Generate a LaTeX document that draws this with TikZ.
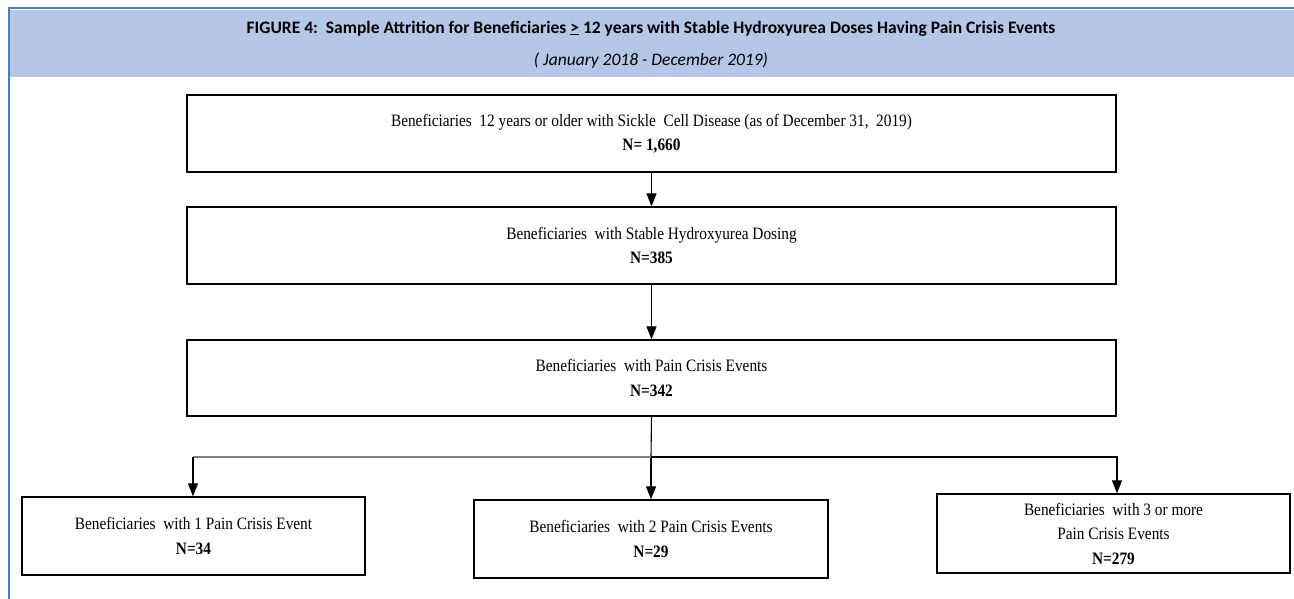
\documentclass[tikz,border=0pt]{standalone}
\usepackage{fontspec}
\setmainfont{Liberation Serif}
\newfontfamily\boxfont[FakeStretch=0.88]{Liberation Serif}
\newfontfamily\calfont{Carlito}
\usetikzlibrary{arrows.meta}
\definecolor{hdrfill}{HTML}{B4C7E7}
\definecolor{hdrline}{HTML}{4A7EBB}
\tikzset{
  stagebox/.style={draw=black, line width=1.3pt, fill=white, align=center,
    inner sep=0pt, font=\boxfont\fontsize{17.4}{24.5}\selectfont},
  flow/.style={draw=black, line width=1.1pt, -{Triangle[width=10pt,length=13pt]}},
  flowline/.style={draw=black, line width=1.1pt},
}
\begin{document}
\begin{tikzpicture}[x=1pt,y=-1pt]
\useasboundingbox (0,0) rectangle (1294,599);
% header band
\fill[hdrfill] (10,10) rectangle (1294,77);
\draw[hdrline, line width=2.2pt] (9,8) -- (1294,8);
\draw[hdrline, line width=2.6pt] (9,7) -- (9,599);
\node[font=\calfont\bfseries\fontsize{17.5}{20}\selectfont] (title) at (651,28.5)
  {FIGURE 4:\ \ Sample Attrition for Beneficiaries \underline{>} 12 years with Stable Hydroxyurea Doses Having Pain Crisis Events};
\node[font=\calfont\itshape\fontsize{17.5}{20}\selectfont] (subtitle) at (651,60.5)
  {( January 2018 - December 2019)};
% boxes
\node[stagebox, minimum width=929pt, minimum height=77pt] (b1) at (651.5,133.5)
  {Beneficiaries\ \ 12 years or older with Sickle\ \ Cell Disease (as of December 31,\ \ 2019)\\ \textbf{N= 1,660}};
\node[stagebox, minimum width=929pt, minimum height=77pt] (b2) at (651.5,245.5)
  {Beneficiaries\ \ with Stable Hydroxyurea Dosing\\ \textbf{N=385}};
\node[stagebox, minimum width=929pt, minimum height=76pt] (b3) at (651.5,378)
  {Beneficiaries\ \ with Pain Crisis Events\\ \textbf{N=342}};
\node[stagebox, minimum width=343pt, minimum height=78pt] (b4) at (193.5,536)
  {Beneficiaries\ \ with 1 Pain Crisis Event\\ \textbf{N=34}};
\node[stagebox, minimum width=354pt, minimum height=78pt] (b5) at (651,539)
  {Beneficiaries\ \ with 2 Pain Crisis Events\\ \textbf{N=29}};
\node[stagebox, minimum width=353pt, minimum height=79pt] (b6) at (1113.5,533.5)
  {Beneficiaries\ \ with 3 or more\\ Pain Crisis Events\\ \textbf{N=279}};
% connectors
\draw[flow] (b1.south) -- (b2.north);
\draw[flow] (b2.south) -- (b3.north);
\coordinate (split) at (651,457);
\coordinate (lcorner) at (193,457);
\coordinate (rcorner) at (1117,457);
\draw[flowline] (b3.south) -- (split);
\draw[flow] (split) -- (b5.north);
\draw[gray, line width=2pt] (split) -- (lcorner);
\draw[flow] (lcorner) -- (lcorner |- b4.north);
\draw[flow] (split) -- (rcorner) -- (rcorner |- b6.north);
\end{tikzpicture}
\end{document}
